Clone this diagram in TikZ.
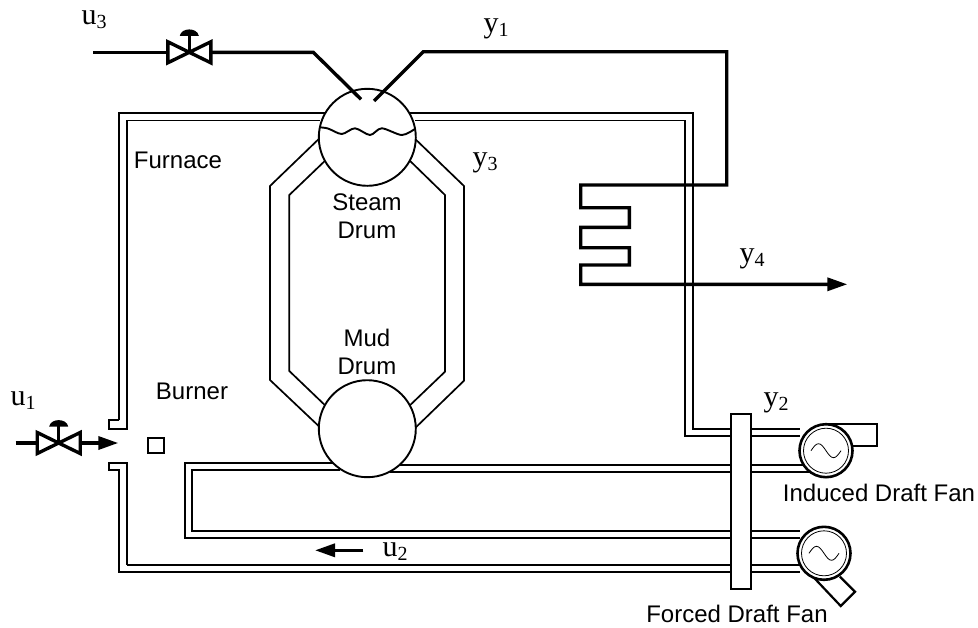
\documentclass[tikz,border=0pt]{standalone}
\usepackage{fontspec}
\setmainfont{Liberation Sans}
\newfontfamily\serifface{Liberation Serif}
\usetikzlibrary{arrows.meta}

\newcommand{\sublabel}[2]{{\serifface\fontsize{30}{32}\selectfont #1\raisebox{-4pt}{\fontsize{20}{20}\selectfont #2}}}

\tikzset{
  wall/.style={line width=1.7pt},
  steamline/.style={line width=3.4pt,line join=miter},
  drum/.style={circle,draw,fill=white,line width=1.9pt,minimum size=97pt,inner sep=0pt},
  fan/.style={circle,draw,fill=white,line width=2.6pt,minimum size=53pt,inner sep=0pt},
  fan rotor/.style={circle,draw,line width=0.8pt,minimum size=45pt,inner sep=0pt},
  name text/.style={font=\fontsize{24}{28}\selectfont,align=center,inner sep=0pt},
  signal/.style={inner sep=0pt}
}

\begin{document}
\begin{tikzpicture}[x=1pt,y=-1pt,>={Triangle[length=20pt,width=13pt]}]
\useasboundingbox (0,0) rectangle (978,627);

% furnace wall
\draw [wall] (119.3,420) -- (109.3,420) -- (109.3,429.3) -- (127,429.3) -- (127,120.5) -- (320,120.5);
\draw [wall] (119.3,420) -- (119.3,113) -- (692.7,113) -- (692.7,429.3) -- (800,429.3);
\draw [wall] (415,120.5) -- (685,120.5) -- (685,436) -- (800,436);
\draw [wall] (127,565) -- (127,463.3) -- (109.3,463.3) -- (109.3,470.3) -- (119.3,470.3) -- (119.3,572.3) -- (800,572.3);
\draw [wall] (127,565) -- (800,565);

% air duct
\draw [wall] (340,463.3) -- (185,463.3) -- (185,538.3) -- (800,538.3);
\draw [wall] (340,470) -- (192.3,470) -- (192.3,531) -- (800,531);
\foreach \y in {465.3,472.3}
  \draw [wall] (390,\y) -- (810,\y);

% risers
\draw [wall] (325,133) -- (270,186) -- (270,380) -- (325,432);
\draw [wall] (330,156) -- (289.3,195) -- (289.3,371) -- (330,410);
\draw [wall] (410,134) -- (464,186) -- (464,380.7) -- (410,433);
\draw [wall] (405,156) -- (445,195) -- (445,371.7) -- (405,410);

% drums
\node [drum] (steam) at (367.3,137.3) {};
\node [drum] (mud) at (367.3,428.7) {};
\draw [line width=1.9pt] plot [smooth] coordinates {(319.3,127.3) (328,128.5) (341.7,134) (355,128.3) (370,135) (381.7,128.3) (401.7,135) (414.3,129.3)};

% outlets
\draw [line width=2.2pt,fill=white] (826,423.7) -- (877.3,423.7) -- (877.3,446) -- (845,446);
\draw [line width=2.2pt,fill=white] (840,576.7) -- (855,591.7) -- (840.7,606) -- (813,576.7);

% fans
\foreach \m/\fx/\fy in {induced/826/450.7,forced/824/553.3} {
  \node [fan] (fan-\m) at (\fx,\fy) {};
  \node [fan rotor] (rotor-\m) at (\fx,\fy) {};
  \draw [line width=0.8pt] (\fx-15,\fy) sin (\fx-7.5,\fy-7) cos (\fx,\fy) sin (\fx+7.5,\fy+7) cos (\fx+15,\fy);
}

% column
\draw [line width=2.2pt,fill=white] (731,414.3) rectangle (750.7,589.3);

% burner
\draw [line width=1.8pt] (148.3,438.3) rectangle (163.7,453.3);

% valves
\foreach \m/\vx/\vy in {u3/189.3/52.3,u1/58.7/443} {
  \coordinate (valve-\m) at (\vx,\vy);
  \draw [steamline] (\vx-21.5,\vy-10.5) -- (\vx+21.5,\vy+10.5) -- (\vx+21.5,\vy-10.5) -- (\vx-21.5,\vy+10.5) -- cycle;
  \draw [steamline] (\vx,\vy) -- (\vx,\vy-17);
  \fill (\vx-9.5,\vy-16.5) .. controls (\vx-8,\vy-25) and (\vx+8,\vy-25) .. (\vx+9.5,\vy-16.5) -- cycle;
}

% lines
\draw [steamline] (93.3,52.3) -- (168,52.3);
\draw [steamline] (211,52.3) -- (313.3,52.3) -- (361,99.3);
\draw [steamline,->] (374,101) -- (423.3,51.7) -- (726.7,51.7) -- (726.7,185) -- (580.7,185) -- (580.7,207.7) -- (629.3,207.7) -- (629.3,227.3) -- (580.7,227.3) -- (580.7,247.7) -- (629.3,247.7) -- (629.3,265) -- (580.7,265) -- (580.7,284.3) -- (847.3,284.3);
\draw [steamline] (15.7,443) -- (37.5,443);
\draw [steamline,->] (80,443) -- (118.3,443);
\draw [steamline,->] (363.3,550.3) -- (315,550.3);

% labels
\node [name text] (furnace) at (178,160) {Furnace};
\node [name text] (steam-text) at (367,216) {Steam\\[0pt]Drum};
\node [name text] (mud-text) at (367,352) {Mud\\[0pt]Drum};
\node [name text] (burner) at (192,391) {Burner};
\node [name text] (induced) at (879,493) {Induced Draft Fan};
\node [name text] (forced) at (737,614) {Forced Draft Fan};

\foreach \n/\s/\lx/\ly in {u/3/94/20,y/1/496/29,y/3/485/163,y/4/752/259,y/2/776/403,u/1/23/401,u/2/395/552}
  \node [signal] (label-\n\s) at (\lx,\ly) {\sublabel{\n}{\s}};

\end{tikzpicture}
\end{document}
